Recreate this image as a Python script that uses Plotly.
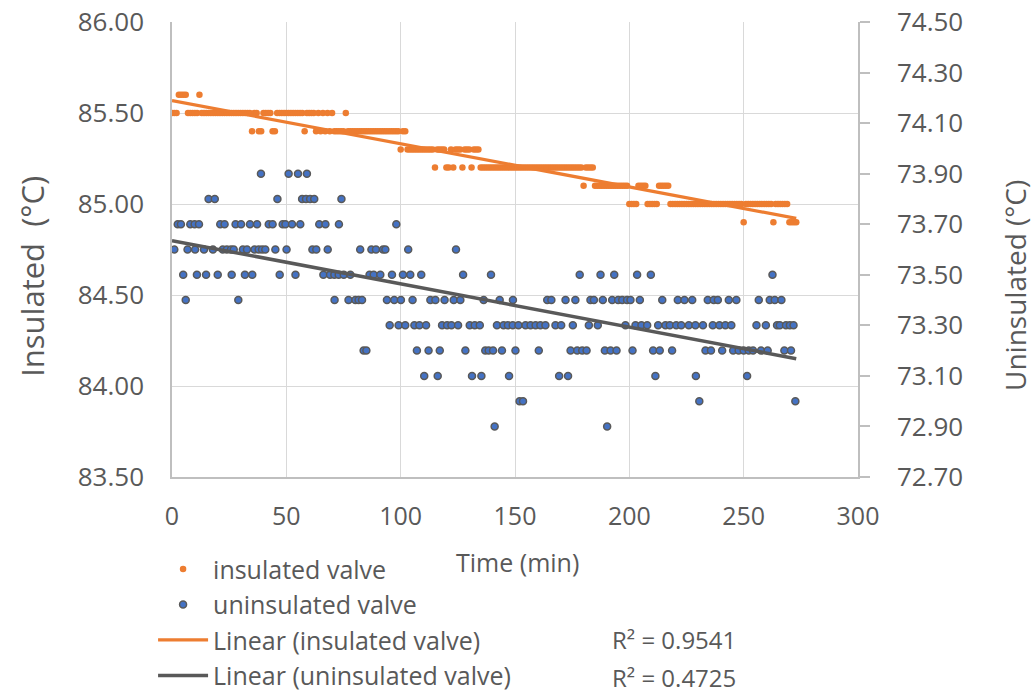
import plotly.graph_objects as go

# ---------------- data ----------------
# insulated valve, one reading per minute, t = 0 .. 273 min (left axis, °C)
insulated = [
    85.5, 85.5, 85.5, 85.6, 85.6, 85.6, 85.6, 85.5, 85.5, 85.5,
    85.5, 85.5, 85.6, 85.5, 85.5, 85.5, 85.5, 85.5, 85.5, 85.5,
    85.5, 85.5, 85.5, 85.5, 85.5, 85.5, 85.5, 85.5, 85.5, 85.5,
    85.5, 85.5, 85.5, 85.5, 85.5, 85.4, 85.5, 85.5, 85.4, 85.4,
    85.5, 85.5, 85.5, 85.5, 85.4, 85.4, 85.5, 85.5, 85.5, 85.5,
    85.5, 85.5, 85.5, 85.5, 85.5, 85.5, 85.5, 85.5, 85.4, 85.5,
    85.5, 85.5, 85.5, 85.4, 85.5, 85.4, 85.5, 85.4, 85.5, 85.4,
    85.5, 85.4, 85.4, 85.4, 85.4, 85.4, 85.5, 85.4, 85.4, 85.4,
    85.4, 85.4, 85.4, 85.4, 85.4, 85.4, 85.4, 85.4, 85.4, 85.4,
    85.4, 85.4, 85.4, 85.4, 85.4, 85.4, 85.4, 85.4, 85.4, 85.4,
    85.3, 85.4, 85.4, 85.3, 85.3, 85.3, 85.3, 85.3, 85.3, 85.3,
    85.3, 85.3, 85.3, 85.3, 85.3, 85.2, 85.3, 85.3, 85.3, 85.3,
    85.2, 85.2, 85.3, 85.2, 85.3, 85.3, 85.3, 85.2, 85.3, 85.3,
    85.3, 85.2, 85.3, 85.3, 85.3, 85.2, 85.2, 85.2, 85.2, 85.2,
    85.2, 85.2, 85.2, 85.2, 85.2, 85.2, 85.2, 85.2, 85.2, 85.2,
    85.2, 85.2, 85.2, 85.2, 85.2, 85.2, 85.2, 85.2, 85.2, 85.2,
    85.2, 85.2, 85.2, 85.2, 85.2, 85.2, 85.2, 85.2, 85.2, 85.2,
    85.2, 85.2, 85.2, 85.2, 85.2, 85.2, 85.2, 85.2, 85.2, 85.2,
    85.1, 85.2, 85.2, 85.2, 85.2, 85.1, 85.1, 85.1, 85.1, 85.1,
    85.1, 85.1, 85.1, 85.1, 85.1, 85.1, 85.1, 85.1, 85.1, 85.1,
    85.0, 85.0, 85.0, 85.0, 85.1, 85.1, 85.1, 85.1, 85.0, 85.0,
    85.0, 85.0, 85.0, 85.1, 85.1, 85.1, 85.1, 85.1, 85.0, 85.0,
    85.0, 85.0, 85.0, 85.0, 85.0, 85.0, 85.0, 85.0, 85.0, 85.0,
    85.0, 85.0, 85.0, 85.0, 85.0, 85.0, 85.0, 85.0, 85.0, 85.0,
    85.0, 85.0, 85.0, 85.0, 85.0, 85.0, 85.0, 85.0, 85.0, 85.0,
    84.9, 85.0, 85.0, 85.0, 85.0, 85.0, 85.0, 85.0, 85.0, 85.0,
    85.0, 85.0, 85.0, 84.9, 85.0, 85.0, 85.0, 85.0, 85.0, 85.0,
    84.9, 84.9, 84.9, 84.9,
]
insulated_time = list(range(len(insulated)))

# uninsulated valve (right axis, °C): time stamps (min) of the visible dots per level
unins_739 = [38.9, 51.0, 55.1, 59.0]
unins_738 = [16.0, 18.7, 46.1, 56.9, 58.6, 60.4, 62.2, 74.1]
unins_737 = [2.5, 3.9, 8.0, 9.9, 11.8, 21.1, 23.0, 27.8, 30.2, 34.1, 37.2, 42.3, 44.0,
             48.4, 49.6, 52.5, 56.1, 64.4, 67.1, 73.0, 98.1]
unins_736 = [1.0, 6.8, 10.1, 14.0, 17.9, 22.2, 24.0, 25.8, 27.0, 31.0, 32.8, 36.1, 37.9,
             39.4, 40.8, 45.2, 50.1, 61.4, 63.1, 68.1, 82.3, 87.2, 89.2, 92.3, 93.3,
             103.3, 124.2]
unins_735 = [4.9, 10.9, 14.9, 20.0, 26.1, 31.9, 35.1, 47.1, 54.0, 66.2, 69.1, 71.0, 72.9,
             75.1, 78.0, 86.4, 88.2, 91.1, 96.2, 101.0, 104.2, 109.0, 127.3, 139.5,
             178.3, 187.4, 193.4, 203.4, 209.4, 262.6]
unins_734 = [6.0, 29.0, 71.1, 77.2, 80.2, 81.6, 83.1, 94.0, 97.2, 100.1, 105.2, 113.0,
             115.2, 119.2, 123.2, 126.1, 136.3, 143.3, 149.1, 164.1, 165.9, 172.1, 176.4,
             183.0, 184.5, 188.4, 192.5, 195.1, 196.9, 199.0, 200.5, 204.6, 214.4, 221.2,
             224.1, 227.5, 234.3, 236.9, 238.7, 243.5, 246.8, 256.6, 261.4, 263.6, 266.5]
unins_733 = [95.2, 99.1, 102.0, 106.0, 108.2, 111.1, 118.1, 120.3, 122.2, 125.1, 130.2,
             132.4, 134.6, 142.1, 145.0, 146.9, 149.0, 151.5, 154.6, 156.8, 159.0, 161.1,
             163.3, 167.7, 170.2, 175.3, 182.3, 186.2, 198.3, 202.7, 205.3, 207.8, 212.6,
             215.8, 217.7, 220.5, 222.7, 226.0, 228.9, 232.2, 236.5, 239.4, 242.0, 244.6,
             255.6, 259.7, 264.6, 265.8, 268.5, 270.2, 271.8]
unins_732 = [83.8, 85.0, 107.1, 112.2, 117.1, 128.3, 137.0, 138.5, 140.4, 144.3, 150.2,
             160.4, 174.3, 177.2, 179.4, 181.3, 189.3, 191.8, 194.4, 201.4, 210.4, 213.3,
             218.7, 233.3, 235.7, 240.6, 245.4, 247.8, 250.0, 252.2, 254.1, 257.6, 260.5,
             267.8, 270.7]
unins_731 = [110.3, 116.2, 131.2, 135.3, 147.4, 169.3, 173.2, 211.4, 229.1, 251.5]
unins_730 = [152.0, 153.5, 230.6, 272.6]
unins_729 = [141.1, 190.3]

unins_levels = [73.9, 73.8, 73.7, 73.6, 73.5, 73.4, 73.3, 73.2, 73.1, 73.0, 72.9]
unins_groups = [unins_739, unins_738, unins_737, unins_736, unins_735, unins_734,
                unins_733, unins_732, unins_731, unins_730, unins_729]

# Excel linear trend lines: [intercept, slope per min]
ins_trend = [85.568, -0.00237]
unins_trend = [73.635, -0.00171]
trend_t = [0, 273]
r2_labels = ["R² = 0.9541", "R² = 0.4725"]

# ---------------- build ----------------
unins_t, unins_v = [], []
for lvl, ts in zip(unins_levels, unins_groups):
    unins_t += ts
    unins_v += [lvl] * len(ts)

ORANGE = "#ED7D31"
GREY = "#595959"
BLUE = "#4472C4"
TXT = "#595959"
FONT = "Open Sans"

fig = go.Figure()
fig.add_trace(go.Scatter(
    x=insulated_time, y=insulated, mode="markers", name="insulated valve",
    marker=dict(color=ORANGE, size=6.5, line=dict(width=0)), legendgroup="a"))
fig.add_trace(go.Scatter(
    x=unins_t, y=unins_v, mode="markers", name="uninsulated valve", yaxis="y2",
    marker=dict(color=BLUE, size=7, line=dict(color=GREY, width=1.5)), legendgroup="b"))
fig.add_trace(go.Scatter(
    x=trend_t, y=[ins_trend[0] + ins_trend[1] * t for t in trend_t], mode="lines",
    name="Linear (insulated valve)", line=dict(color=ORANGE, width=3.2), legendgroup="c"))
fig.add_trace(go.Scatter(
    x=trend_t, y=[unins_trend[0] + unins_trend[1] * t for t in trend_t], mode="lines",
    name="Linear (uninsulated valve)", yaxis="y2", line=dict(color=GREY, width=3.5),
    legendgroup="d"))

fig.update_layout(
    width=1035, height=693, autosize=False,
    margin=dict(l=172, r=177, t=22, b=216, autoexpand=False),
    paper_bgcolor="white", plot_bgcolor="white",
    font=dict(family=FONT, color=TXT, size=26),
    showlegend=True,
    legend=dict(x=-0.0276, y=-0.152, xanchor="left", yanchor="top",
                font=dict(size=25, color=TXT), tracegroupgap=0, itemwidth=50,
                bgcolor="rgba(0,0,0,0)"),
    xaxis=dict(range=[0, 300], dtick=50, tick0=0, showgrid=True, gridcolor="#D9D9D9",
               gridwidth=1.3, zeroline=False, showline=True, linecolor="#BFBFBF",
               linewidth=1.5, ticks="", ticklabelstandoff=16,
               tickfont=dict(size=25, color=TXT)),
    yaxis=dict(range=[83.5, 86.0], dtick=0.5, tick0=83.5, tickformat=".2f",
               showgrid=True, gridcolor="#D9D9D9", gridwidth=1.3, zeroline=False,
               showline=True, linecolor="#BFBFBF", linewidth=1.5, ticks="",
               ticklabelstandoff=21, tickfont=dict(size=26, color=TXT)),
    yaxis2=dict(range=[72.7, 74.5], dtick=0.2, tick0=72.7, tickformat=".2f",
                overlaying="y", side="right", showgrid=False, zeroline=False,
                showline=True, linecolor="#BFBFBF", linewidth=1.5, ticks="outside",
                ticklen=10, tickcolor="#BFBFBF", tickwidth=1.5, ticklabelstandoff=22,
                tickfont=dict(size=26, color=TXT)),
    annotations=[
        dict(text="Insulated\u00a0 (°C)", xref="paper", yref="paper", x=-0.204, y=0.44,
             xanchor="center", yanchor="middle", textangle=-90, showarrow=False,
             font=dict(size=31, color=TXT)),
        dict(text="Uninsulated (°C)", xref="paper", yref="paper", x=1.229, y=0.42,
             xanchor="center", yanchor="middle", textangle=-90, showarrow=False,
             font=dict(size=28, color=TXT)),
        dict(text="Time (min)", xref="paper", yref="paper", x=0.504, y=-0.187,
             xanchor="center", yanchor="middle", showarrow=False,
             font=dict(size=25, color=TXT)),
        dict(text=r2_labels[0], xref="paper", yref="paper", x=0.638, y=-0.358,
             xanchor="left", yanchor="middle", showarrow=False,
             font=dict(size=24, color=TXT)),
        dict(text=r2_labels[1], xref="paper", yref="paper", x=0.638, y=-0.44,
             xanchor="left", yanchor="middle", showarrow=False,
             font=dict(size=24, color=TXT)),
    ],
)

fig.write_html("out.html", post_script="document.body.style.margin='0';",
               config={"displayModeBar": False})
